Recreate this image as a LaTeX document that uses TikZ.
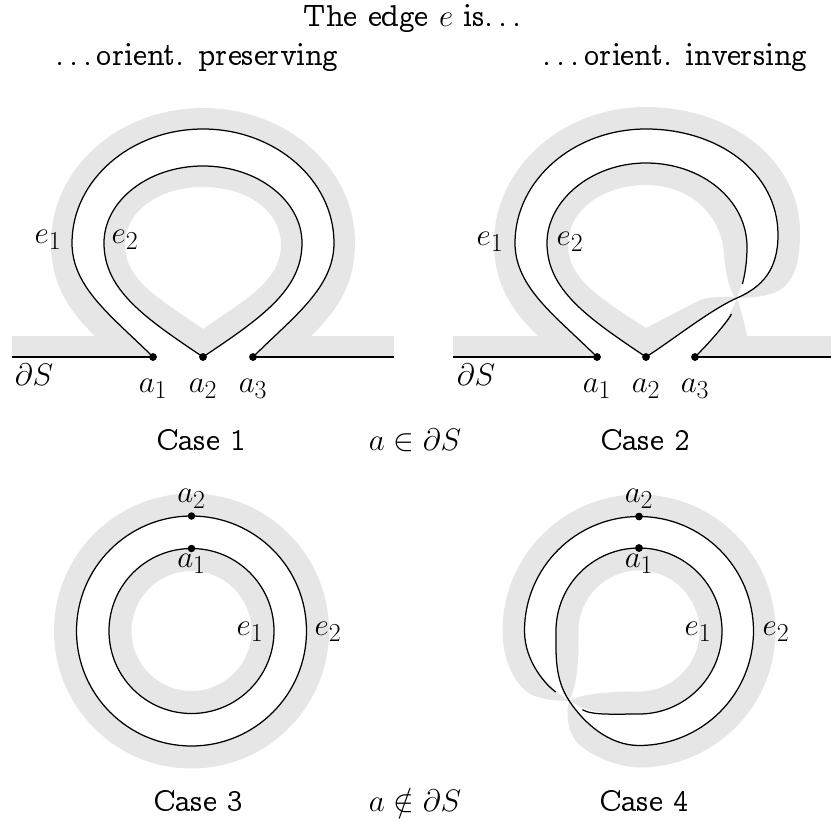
\documentclass[tikz,border=0pt]{standalone}
\usepackage[OT1]{fontenc}
\renewcommand{\rmdefault}{ccr}
\definecolor{surfgray}{RGB}{230,230,230}
\tikzset{
  surf/.style={fill=surfgray},
  strand/.style={draw=black, line width=1.25pt},
  bnd/.style={draw=black, line width=1.25pt},
  dot/.style={circle, fill=black, inner sep=0pt, minimum size=7.5pt},
  txt/.style={font=\fontsize{24.88}{30}\selectfont, scale=1.25, inner sep=0pt},
}
\begin{document}
\begin{tikzpicture}[x=1pt, y=-1pt]
\useasboundingbox (0,0) rectangle (831,822);

% ---------------- Case 1 ----------------
\fill[surf] (153,357) -- (12,357) -- (12,336) -- (95,336)
  .. controls (70,312) and (51,285) .. (51,243)
  .. controls (51,168) and (119,108) .. (203,108)
  .. controls (287,108) and (355,168) .. (355,243)
  .. controls (355,285) and (336,312) .. (311,336)
  -- (394,336) -- (394,357) -- (253,357)
  .. controls (293,317) and (334,288) .. (334,243)
  .. controls (334,180) and (275,129) .. (203,129)
  .. controls (131,129) and (72,180) .. (72,243)
  .. controls (72,288) and (113,317) .. (153,357) -- cycle;
\fill[surf, even odd rule]
  (203,357) .. controls (145,318) and (104,290) .. (104,243)
  .. controls (104,201) and (148,166) .. (203,166)
  .. controls (258,166) and (302,201) .. (302,243)
  .. controls (302,290) and (261,318) .. (203,357) -- cycle
  (203,329) .. controls (165,302) and (125,282) .. (125,245)
  .. controls (125,210) and (160,187) .. (203,187)
  .. controls (246,187) and (281,210) .. (281,245)
  .. controls (281,282) and (241,302) .. (203,329) -- cycle;

\node[dot] (c1a1) at (153,357) {};
\node[dot] (c1a2) at (203,357) {};
\node[dot] (c1a3) at (253,357) {};
\coordinate (c1L) at (12,357);
\coordinate (c1R) at (394,357);
\draw[bnd] (c1L) -- (c1a1.center);
\draw[bnd] (c1a3.center) -- (c1R);
\draw[strand] (c1a1.center) .. controls (113,317) and (72,288) .. (72,243)
  .. controls (72,180) and (131,129) .. (203,129)
  .. controls (275,129) and (334,180) .. (334,243)
  .. controls (334,288) and (293,317) .. (c1a3.center);
\draw[strand] (c1a2.center) .. controls (145,318) and (104,290) .. (104,243)
  .. controls (104,201) and (148,166) .. (203,166)
  .. controls (258,166) and (302,201) .. (302,243)
  .. controls (302,290) and (261,318) .. (c1a2.center);
\node[dot] at (c1a1) {};
\node[dot] at (c1a2) {};
\node[dot] at (c1a3) {};

\node[txt] (c1e1) at (48,240) {$e_1$};
\node[txt] (c1e2) at (125,240) {$e_2$};
\node[txt] (c1dS) at (34,375) {$\partial S$};
\node[txt] (c1l1) at (153,389) {$a_1$};
\node[txt] (c1l2) at (203,389) {$a_2$};
\node[txt] (c1l3) at (253,389) {$a_3$};

% ---------------- Case 2 ----------------
\fill[surf] (597,357) -- (453,357) -- (453,336) -- (538,336)
  .. controls (513,312) and (494,285) .. (494,243)
  .. controls (494,168) and (562,107) .. (646,107)
  .. controls (730,107) and (800,160) .. (800,232)
  .. controls (800,262) and (795,280) .. (780,290)
  .. controls (768,297) and (750,298) .. (737,298)
  .. controls (741,310) and (745,325) .. (747,336)
  -- (831,336) -- (831,357) -- (695,357)
  .. controls (715,337) and (730,318) .. (737,298)
  .. controls (762,287) and (778,270) .. (778,235)
  .. controls (778,172) and (718,129) .. (646,129)
  .. controls (574,129) and (515,180) .. (515,243)
  .. controls (515,288) and (557,317) .. (597,357) -- cycle;
\fill[surf, even odd rule]
  (646,357) .. controls (588,318) and (547,290) .. (547,243)
  .. controls (547,201) and (591,163) .. (646,163)
  .. controls (702,163) and (747,200) .. (747,247)
  .. controls (747,270) and (742,285) .. (737,298)
  .. controls (710,310) and (674,339) .. (646,357) -- cycle
  (646,328) .. controls (603,300) and (568,280) .. (568,245)
  .. controls (568,210) and (603,185) .. (646,185)
  .. controls (690,185) and (722,215) .. (724,255)
  .. controls (726,275) and (729,289) .. (735,297)
  .. controls (722,297) and (712,296) .. (700,300) -- cycle;

\node[dot] (c2a1) at (597,357) {};
\node[dot] (c2a2) at (646,357) {};
\node[dot] (c2a3) at (695,357) {};
\coordinate (c2L) at (453,357);
\coordinate (c2R) at (831,357);
\coordinate (c2X) at (737,298);
\draw[bnd] (c2L) -- (c2a1.center);
\draw[bnd] (c2a3.center) -- (c2R);
\draw[strand] (c2a1.center) .. controls (557,317) and (515,288) .. (515,243)
  .. controls (515,180) and (574,129) .. (646,129)
  .. controls (718,129) and (778,172) .. (778,235)
  .. controls (778,270) and (762,287) .. (c2X)
  .. controls (710,310) and (674,339) .. (c2a2.center);
\draw[strand, shorten >=15pt] (c2a2.center) .. controls (588,318) and (547,290) .. (547,243)
  .. controls (547,201) and (591,163) .. (646,163)
  .. controls (702,163) and (747,200) .. (747,247)
  .. controls (747,270) and (742,285) .. (c2X);
\draw[strand, shorten <=17pt] (c2X) .. controls (730,318) and (715,337) .. (c2a3.center);
\node[dot] at (c2a1) {};
\node[dot] at (c2a2) {};
\node[dot] at (c2a3) {};

\node[txt] (c2e1) at (490,242) {$e_1$};
\node[txt] (c2e2) at (570,242) {$e_2$};
\node[txt] (c2dS) at (476,375) {$\partial S$};
\node[txt] (c2l1) at (597,389) {$a_1$};
\node[txt] (c2l2) at (646,389) {$a_2$};
\node[txt] (c2l3) at (695,389) {$a_3$};

% ---------------- Case 3 ----------------
\coordinate (c3c) at (191.5,631);
\fill[surf, even odd rule] (c3c) circle[radius=137.5] (c3c) circle[radius=115];
\fill[surf, even odd rule] (c3c) circle[radius=82.5] (c3c) circle[radius=60];
\draw[strand] (c3c) circle[radius=115];
\draw[strand] (c3c) circle[radius=82.5];
\node[dot] (c3a2) at (191.5,516) {};
\node[dot] (c3a1) at (191.5,548.5) {};
\node[txt] (c3l2) at (191.5,499) {$a_2$};
\node[txt] (c3l1) at (191.5,564) {$a_1$};
\node[txt] (c3e1) at (250,632) {$e_1$};
\node[txt] (c3e2) at (328,632) {$e_2$};

% ---------------- Case 4 ----------------
\coordinate (c4X) at (569.17,700.83);
\fill[surf, even odd rule]
  (639,516.5) arc[start angle=-90, end angle=90, radius=114.5]
  .. controls (609,745.5) and (583.92,723.09) .. (569.17,700.83)
  .. controls (546.91,686.08) and (524.5,662) .. (524.5,631)
  arc[start angle=180, end angle=270, radius=114.5] -- cycle
  (569.17,700.83) .. controls (557,701) and (542,700) .. (530,694)
  .. controls (513,683) and (502.5,658) .. (502.5,631)
  arc[start angle=180, end angle=450, radius=136.5]
  .. controls (615,767) and (585,753) .. (575,740)
  .. controls (567,728) and (566,712) .. (569.17,700.83) -- cycle;
\fill[surf, even odd rule]
  (639,548) arc[start angle=-90, end angle=90, radius=83]
  .. controls (617,714) and (591.43,715.58) .. (569.17,700.83)
  .. controls (554.42,678.57) and (556,654) .. (556,631)
  arc[start angle=180, end angle=270, radius=83] -- cycle
  (569.17,700.83) .. controls (582,694) and (605,691.5) .. (639,691.5)
  arc[start angle=90, end angle=-180, radius=60.5]
  .. controls (578.5,655) and (579,680) .. (569.17,700.83) -- cycle;

\node[dot] (c4a2) at (639,516.5) {};
\node[dot] (c4a1) at (639,548) {};
\draw[strand] (c4a2.center) arc[start angle=-90, end angle=90, radius=114.5]
  .. controls (609,745.5) and (583.92,723.09) .. (c4X)
  .. controls (554.42,678.57) and (556,654) .. (556,631)
  arc[start angle=180, end angle=270, radius=83];
\draw[strand, shorten >=16pt] (c4a1.center) arc[start angle=-90, end angle=90, radius=83]
  .. controls (617,714) and (591.43,715.58) .. (c4X);
\draw[strand, shorten <=16pt] (c4X) .. controls (546.91,686.08) and (524.5,662) .. (524.5,631)
  arc[start angle=180, end angle=270, radius=114.5];
\node[dot] at (c4a2) {};
\node[dot] at (c4a1) {};
\node[txt] (c4l2) at (639,499) {$a_2$};
\node[txt] (c4l1) at (639,564) {$a_1$};
\node[txt] (c4e1) at (698,632) {$e_1$};
\node[txt] (c4e2) at (776,632) {$e_2$};

% ---------------- Texts ----------------
\node[txt, anchor=base] (title) at (415,26) {The edge $e$ is\dots};
\node[txt, anchor=base] (hl) at (197,65) {\dots orient. preserving};
\node[txt, anchor=base] (hr) at (675,65) {\dots orient. inversing};
\node[txt, anchor=base] (case1) at (201,450) {Case 1};
\node[txt, anchor=base] (inS) at (415,450) {$a \in \partial S$};
\node[txt, anchor=base] (case2) at (645,450) {Case 2};
\node[txt, anchor=base] (case3) at (198,811) {Case 3};
\node[txt, anchor=base] (notinS) at (415,811) {$a \notin \partial S$};
\node[txt, anchor=base] (case4) at (644,811) {Case 4};
\end{tikzpicture}
\end{document}
